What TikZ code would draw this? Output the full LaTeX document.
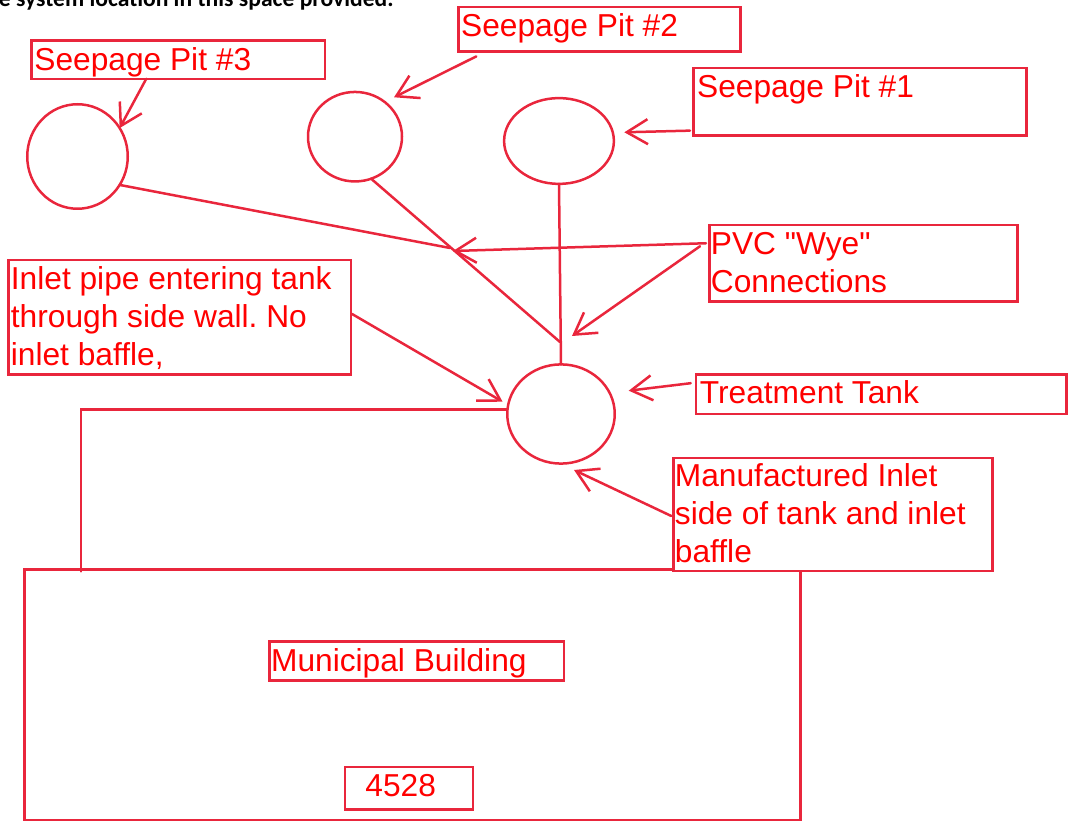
\documentclass[tikz,border=0pt]{standalone}
\usepackage{fontspec}
\setmainfont{Liberation Sans}[Ligatures=TeXOff]
\newfontfamily\topfont{Carlito}
\usetikzlibrary{arrows.meta,calc,shapes.geometric}
\definecolor{lc}{RGB}{233,38,60}
\definecolor{tc}{RGB}{255,0,0}
\frenchspacing
\tikzset{
  ln/.style={draw=lc, line width=1.25pt},
  bx/.style={ln, rectangle, inner sep=0pt, outer sep=0pt, fill=white},
  pit/.style={ln, ellipse, inner sep=0pt, outer sep=0pt},
  lbl/.style={text=tc, inner sep=0pt, anchor=base west, font=\fontsize{15.85pt}{19pt}\selectfont},
  pipe/.style={ln, line cap=round},
  arr/.style={ln, line cap=round, -{Straight Barb[length=10.5pt,width=12.5pt]}},
}
\begin{document}
\begin{tikzpicture}[x=0.5pt,y=-0.5pt]
\clip (0,0) rectangle (1071,822);
% header (cut off)
\node[anchor=base east, inner sep=0pt, font=\topfont\bfseries\fontsize{11.8pt}{14pt}\selectfont] (hdr) at (394,7) {e system location in this space provided.};
% building
\node[ln, rectangle, inner sep=0pt, outer sep=0pt, minimum width=387.95pt, minimum height=125.15pt] (bldg) at (412.65,694.65) {};
% pits and tank
\node[pit, minimum width=50.25pt, minimum height=52.25pt] (c3) at (77.5,156.5) {};
\node[pit, minimum width=47pt, minimum height=44.75pt] (c2) at (355,136.7) {};
\node[pit, minimum width=54.9pt, minimum height=42.9pt] (c1) at (559,141) {};
\node[pit, minimum width=53.75pt, minimum height=49.6pt] (tank) at (561,414) {};
% pipes
\coordinate (wye1) at (450,248);
\coordinate (wye2) at (560,342);
\coordinate (bend) at (81,409.3);
\coordinate (inend) at (81,571.5);
\draw[pipe] (c3.-34) -- (wye1);
\draw[pipe] (c2.-69) -- (wye2);
\draw[pipe] (c1.south) -- (tank.north);
\draw[pipe] (tank.west |- bend) -- (bend) -- (inend);
% boxes
\node[bx, minimum width=146.75pt, minimum height=19.1pt] (b3) at (178,59.7) {};
\node[bx, minimum width=141pt, minimum height=22.1pt] (b2) at (599.3,29.3) {};
\node[bx, minimum width=166.5pt, minimum height=33.75pt] (b1) at (860,101.7) {};
\node[bx, minimum width=153.9pt, minimum height=38.25pt] (pv) at (863.4,263.5) {};
\node[bx, minimum width=171.25pt, minimum height=57.25pt] (ib) at (179.8,317.5) {};
\node[bx, minimum width=185.45pt, minimum height=19.6pt] (tb) at (881.2,394.2) {};
\node[bx, minimum width=159.6pt, minimum height=56.55pt] (mb) at (832.9,514.5) {};
\node[bx, minimum width=147.25pt, minimum height=19.6pt] (mu) at (416.5,660.9) {};
\node[bx, minimum width=64.15pt, minimum height=21.25pt] (nb) at (409,788.5) {};
% texts
\node[lbl] (t3) at (34,70.5) {Seepage Pit \#3};
\node[lbl] (t2) at (460.8,36.7) {Seepage Pit \#2};
\node[lbl] (t1) at (696.8,97.7) {Seepage Pit \#1};
\node[lbl] (tpv) at (710.5,255) {\vtop{\hbox{PVC "Wye"}\hbox{Connections}}};
\node[lbl] (tib) at (10.5,289.3) {\vtop{\hbox{Inlet pipe entering tank}\hbox{through side wall. No}\hbox{inlet baffle,}}};
\node[lbl] (ttb) at (699.5,404) {Treatment Tank};
\node[lbl] (tmb) at (674.5,486.7) {\vtop{\hbox{Manufactured Inlet}\hbox{side of tank and inlet}\hbox{baffle}}};
\node[lbl] (tmu) at (270.7,671.7) {Municipal Building};
\node[lbl] (tnb) at (365,796.7) {4528};
% arrows
\draw[arr] ($(b3.south west)+(115,0)$) -- (c3.34);
\draw[arr] ($(b2.south west)+(18,5)$) -- ($(c2.center)+(39,-39.4)$);
\draw[arr] ($(b1.south west)+(-3.5,-4.8)$) -- ($(c1.center)+(65.3,-8.7)$);
\draw[arr] ($(pv.north west)+(-3.5,18)$) -- ($(wye1)+(3,3)$);
\draw[arr] ($(pv.north west)+(-9.5,21)$) -- ($(wye2)+(12,-6)$);
\draw[arr] ($(tb.west)+(-5,-11)$) -- ($(tank.center)+(67.7,-23.3)$);
\draw[arr] ($(mb.west)+(-2,1.5)$) -- ($(tank.center)+(13,56)$);
\draw[arr] ($(ib.east)+(1,-3.5)$) -- ($(tank.center)+(-58.4,-12.3)$);
\end{tikzpicture}
\end{document}
